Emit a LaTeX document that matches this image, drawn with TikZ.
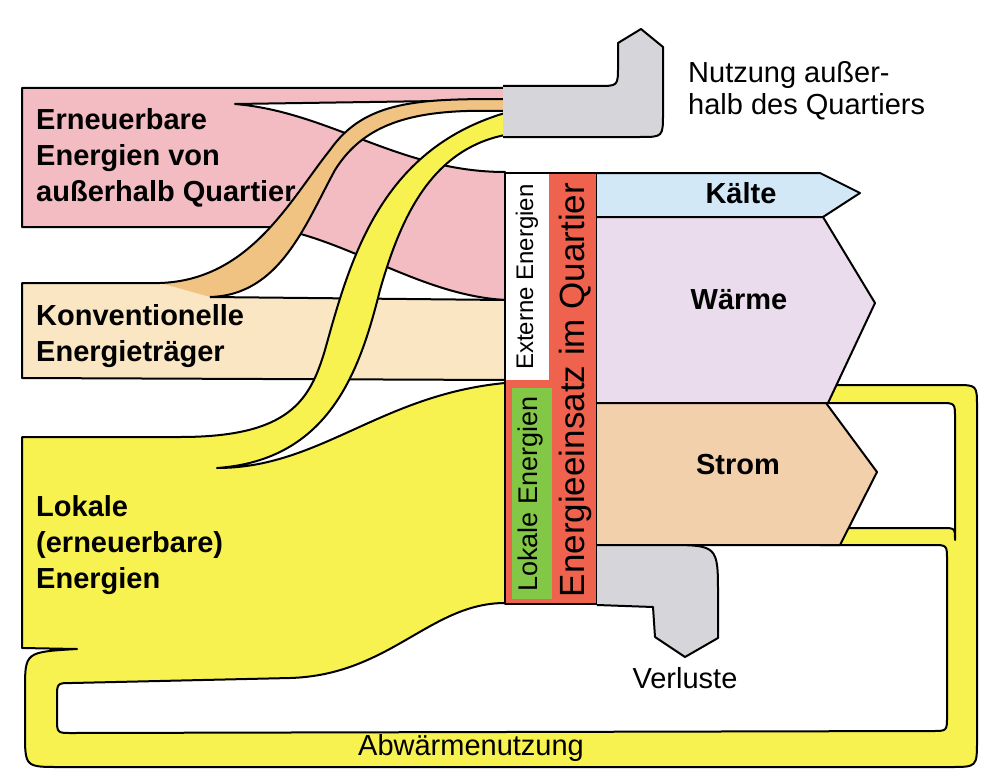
\documentclass[tikz,border=0pt]{standalone}
\usepackage{fontspec}
\setmainfont{Liberation Sans}
\definecolor{erneuerbar}{RGB}{242,188,194}
\definecolor{konv}{RGB}{250,230,195}
\definecolor{konvstrom}{RGB}{240,195,130}
\definecolor{lokal}{RGB}{248,242,80}
\definecolor{grau}{RGB}{214,214,218}
\definecolor{kaelte}{RGB}{210,232,246}
\definecolor{waerme}{RGB}{234,220,236}
\definecolor{stromfarbe}{RGB}{242,208,172}
\definecolor{einsatz}{RGB}{238,98,78}
\definecolor{gruen}{RGB}{130,200,70}
\tikzset{flow/.style={draw=black,line width=2pt,line join=round},lbl/.style={font=\fontsize{29}{36}\selectfont\bfseries,align=left,inner sep=0pt},txt/.style={font=\fontsize{29}{32}\selectfont,align=left,inner sep=0pt},vert/.style={rotate=90,inner sep=0pt}}
\begin{document}
\begin{tikzpicture}[x=1pt,y=-1pt]
\useasboundingbox[fill=white] (0,0) rectangle (992,781);
% Zufluesse von links
\path[flow,fill=erneuerbar] (22,88) -- (505,88) -- (505,100) -- (235,104) .. controls (330,112) and (400,172) .. (505,172) -- (505,300) .. controls (420,295) and (350,240) .. (270,227) -- (22,227) -- cycle;
\path[flow,fill=konv] (160,283) -- (22,283) -- (22,378) -- (505,380) -- (505,300) -- (210,297);
\path[flow,fill=konvstrom] (160,283) .. controls (250,280) and (290,200) .. (330,150) .. controls (365,100) and (420,99) .. (505,99) -- (505,111) -- (467,111) .. controls (400,113) and (360,130) .. (335,170) .. controls (305,225) and (280,295) .. (210,297);
\path[flow,fill=lokal] (22,648) -- (22,437) -- (180,437) .. controls (290,437) and (310,400) .. (325,350) .. controls (350,260) and (380,150) .. (505,113) -- (505,135) .. controls (430,150) and (400,220) .. (380,290) .. controls (360,370) and (330,460) .. (217,468) .. controls (320,468) and (380,395) .. (505,383) -- (505,603) .. controls (430,603) and (390,675) .. (290,678) -- (72,683) .. controls (57,683) .. (57,698) -- (57,718) .. controls (57,733) .. (72,733) -- (932,731) .. controls (947,731) .. (947,716) -- (947,560) .. controls (947,545) .. (932,545) -- (820,545) -- (820,528) -- (942,528) .. controls (955,528) .. (955,540) -- (955,418) .. controls (955,403) .. (940,403) -- (820,403) -- (820,385) -- (955,385) .. controls (977,385) .. (977,407) -- (977,740) .. controls (977,767) .. (950,767) -- (60,767) .. controls (25,767) .. (25,732) -- (25,690) .. controls (25,652) .. (77,649) -- cycle;
\path[flow,fill=grau] (503,86) -- (598,86) .. controls (618,86) .. (618,66) -- (618,43) -- (641,29) -- (663,47) -- (663,113) .. controls (663,137) .. (640,137) -- (503,137);
% Energieeinsatz
\path[flow,fill=einsatz] (505,173) rectangle (597,604);
\fill[white] (506,174) rectangle (549,380);
\fill[gruen] (512,388) rectangle (552,599);
% Abfluesse nach rechts
\path[flow,fill=kaelte] (597,173) -- (820,173) -- (860,193) -- (823,217) -- (597,217);
\path[flow,fill=waerme] (597,217) -- (823,217) -- (875,303) -- (828,403) -- (597,403);
\path[flow,fill=stromfarbe] (597,403) -- (826,403) -- (877,472) -- (840,545) -- (597,545);
\path[flow,fill=grau] (597,545) -- (665,545) .. controls (718,545) .. (718,595) -- (718,638) -- (685,657) -- (655,637) -- (653,607) -- (597,605);
% Beschriftung
\node[lbl,anchor=west] (erneuerbar) at (36,158) {Erneuerbare\\Energien von\\außerhalb Quartier};
\node[lbl,anchor=west] (konventionell) at (36,336) {Konventionelle\\Energieträger};
\node[lbl,anchor=west] (lokale) at (36,545) {Lokale\\(erneuerbare)\\Energien};
\node[lbl] (kaeltetext) at (741,193) {Kälte};
\node[lbl] (waermetext) at (739,300) {Wärme};
\node[lbl] (stromtext) at (738,465) {Strom};
\node[txt,anchor=west] (nutzung) at (688,91) {Nutzung außer-\\halb des Quartiers};
\node[txt] (verluste) at (685,678) {Verluste};
\node[txt] (abwaerme) at (471,748) {Abwärmenutzung};
\node[vert,font=\fontsize{24}{24}\selectfont] (extern) at (527,277) {Externe Energien};
\node[vert,font=\fontsize{27}{27}\selectfont] (lokalspalte) at (531,494) {Lokale Energien};
\node[vert,font=\fontsize{35}{35}\selectfont] (einsatztext) at (575,390) {Energieeinsatz im Quartier};
\end{tikzpicture}
\end{document}
